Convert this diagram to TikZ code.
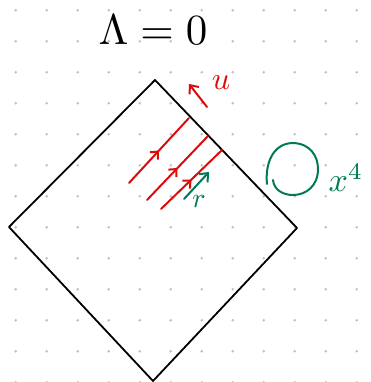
\documentclass[tikz,border=0pt]{standalone}
\usepackage{graphicx}
\usetikzlibrary{arrows.meta,decorations.markings}
\definecolor{inkred}{RGB}{218,12,12}
\definecolor{inkgreen}{RGB}{0,122,84}
\definecolor{griddot}{RGB}{190,190,190}
\tikzset{
  ink/.style={line width=2pt, line cap=round, line join=round},
  ray/.style={ink, inkred, postaction={decorate},
    decoration={markings, mark=at position 0.5 with {\arrow{Straight Barb[length=6pt,width=11pt]}}}},
  tip/.style={-{Straight Barb[length=7pt,width=12pt]}},
  label/.style={inner sep=0pt}
}
\begin{document}
\begin{tikzpicture}[x=1pt, y=-1pt]
    \useasboundingbox (0,0) rectangle (370,382);

    % dotted paper
    \foreach \i in {0,...,11}
      \foreach \j in {0,...,12}
        \fill[griddot] (15.7+31*\i, 10.3+31*\j) circle (1.4pt);

    % title
    \node[label] (title) at (153,30) {\scalebox{4.3}{$\Lambda = 0$}};

    % diamond
    \coordinate (top) at (155,80);
    \coordinate (left) at (9,227);
    \coordinate (right) at (297,228);
    \coordinate (bottom) at (153,381);
    \draw[ink, line width=1.8pt, black] (top) -- (right) -- (bottom) -- (left) -- cycle;

    % rays hitting the edge
    \coordinate (r1a) at (129,183); \coordinate (r1b) at (189,118);
    \coordinate (r2a) at (147,200); \coordinate (r2b) at (208,136);
    \coordinate (r3a) at (161,209); \coordinate (r3b) at (222,150);
    \draw[ray] (r1a) -- (r1b);
    \draw[ray] (r2a) -- (r2b);
    \draw[ray] (r3a) -- (r3b);

    % u direction
    \coordinate (ua) at (207,107);
    \coordinate (ub) at (189,84);
    \draw[ink, inkred, tip] (ua) -- (ub);
    \node[label, inkred] (u) at (221,83) {\scalebox{3.2}{$u$}};

    % r direction
    \coordinate (ra) at (184,199);
    \coordinate (rb) at (209,172);
    \draw[ink, inkgreen, tip] (ra) -- (rb);
    \node[label, inkgreen] (r) at (199,201) {\scalebox{2.8}{$r$}};

    % sphere
    \draw[ink, inkgreen] (267,184) .. controls (265,165) and (272,144) .. (292,143)
      .. controls (310,143) and (318,156) .. (318,169)
      .. controls (318,186) and (306,195) .. (293,195)
      .. controls (283,195) and (274,190) .. (273,180);
    \node[label, inkgreen] (x4) at (346,178) {\scalebox{3.4}{$x^4$}};
\end{tikzpicture}
\end{document}
